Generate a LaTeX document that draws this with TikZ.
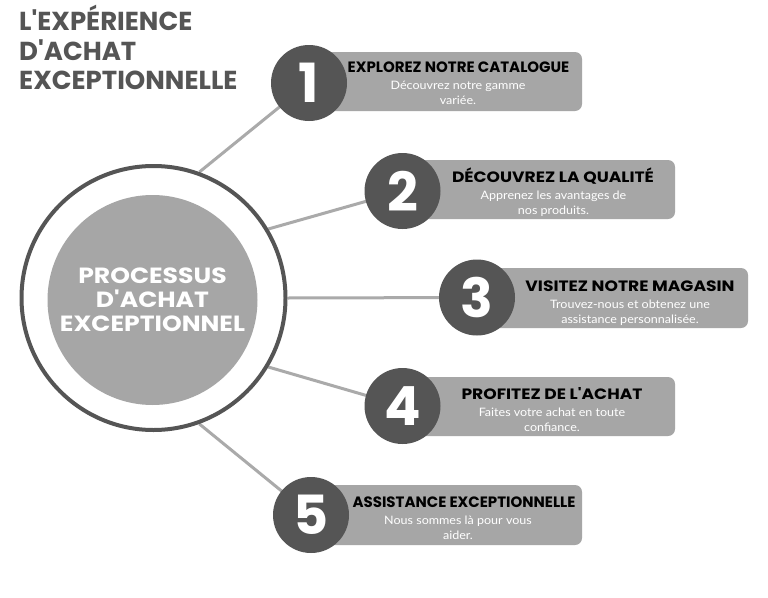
\documentclass[tikz,border=0pt]{standalone}
\usepackage{fontspec}
\newfontfamily\headfont{Poppins}
\newfontfamily\headwide{Poppins}[FakeStretch=1.14]
\newfontfamily\descfont{Lato}[FakeStretch=1.08]
\usetikzlibrary{backgrounds}
\definecolor{darkg}{HTML}{555555}
\definecolor{midg}{HTML}{A6A6A6}
\definecolor{lineg}{HTML}{AAAAAA}
\tikzset{
  numcirc/.style={circle, fill=darkg, minimum size=76pt, inner sep=0pt, text=white, font=\headfont\bfseries\fontsize{54}{54}\selectfont},
  stepbox/.style={rounded corners=7pt, fill=midg, inner sep=0pt},
  steptitle/.style={font=\headfont\bfseries\fontsize{15}{15}\selectfont, text=black, inner sep=0pt},
  steptitlew/.style={font=\headwide\bfseries\fontsize{15}{15}\selectfont, text=black, inner sep=0pt},
  stepdesc/.style={font=\descfont\fontsize{11.6}{15.2}\selectfont, text=white, align=center, inner sep=0pt},
  conn/.style={draw=lineg, line width=3pt},
}
\begin{document}
\begin{tikzpicture}[x=1pt,y=-1pt]
\useasboundingbox (0,0) rectangle (768,597);
% title
\node[anchor=north west, inner sep=0pt, align=left, text=darkg,
  font=\headfont\bfseries\fontsize{26}{29.5}\selectfont] (title) at (19,5)
  {L'EXPÉRIENCE\\D'ACHAT\\EXCEPTIONNELLE};
% central circle
\node[circle, draw=darkg, line width=4pt, fill=white, minimum size=264pt, inner sep=0pt] (ring) at (153.5,298) {};
\node[circle, fill=midg, minimum size=210pt, inner sep=0pt, text=white, align=center,
  font=\headwide\bfseries\fontsize{22}{24}\selectfont] (core) at (152.5,300)
  {PROCESSUS\\D'ACHAT\\EXCEPTIONNEL};
% step 1
\node[stepbox, minimum width=282pt, minimum height=59pt] (b1) at (441,81.5) {};
\node[numcirc] (n1) at (309,83) {1};
\node[steptitle] (t1) at (458.5,67) {EXPLOREZ NOTRE CATALOGUE};
\node[stepdesc] (d1) at (458,93) {Découvrez notre gamme\\variée.};
% step 2
\node[stepbox, minimum width=280pt, minimum height=59pt] (b2) at (535,189.5) {};
\node[numcirc] (n2) at (402.5,191) {2};
\node[steptitlew] (t2) at (553,176) {DÉCOUVREZ LA QUALITÉ};
\node[stepdesc] (d2) at (553.5,204) {Apprenez les avantages de\\nos produits.};
% step 3
\node[stepbox, minimum width=278pt, minimum height=60pt] (b3) at (609,298) {};
\node[numcirc] (n3) at (477,297.5) {3};
\node[steptitlew] (t3) at (630,286) {VISITEZ NOTRE MAGASIN};
\node[stepdesc] (d3a) at (630,304) {Trouvez-nous et obtenez une};
\node[stepdesc] (d3b) at (630,320) {assistance personnalisée.};
% step 4
\node[stepbox, minimum width=280pt, minimum height=59pt] (b4) at (535,406.5) {};
\node[numcirc] (n4) at (402.5,406) {4};
\node[steptitlew] (t4) at (552,394) {PROFITEZ DE L'ACHAT};
\node[stepdesc] (d4) at (552,420) {Faites votre achat en toute\\confiance.};
% step 5
\node[stepbox, minimum width=282pt, minimum height=60pt] (b5) at (441,515) {};
\node[numcirc] (n5) at (311,515) {5};
\node[steptitle] (t5) at (464,502) {ASSISTANCE EXCEPTIONNELLE};
\node[stepdesc] (d5) at (458,528) {Nous sommes là pour vous\\aider.};
% connectors
\begin{scope}[on background layer]
  \fill[white] (0,0) rectangle (768,597);
  \draw[conn] (ring.70) -- (n1.center);
  \draw[conn] (ring.31) -- (n2.center);
  \draw[conn] (ring.0) -- (n3.center);
  \draw[conn] (ring.-31) -- (n4.center);
  \draw[conn] (ring.-70) -- (n5.center);
\end{scope}
\end{tikzpicture}
\end{document}
